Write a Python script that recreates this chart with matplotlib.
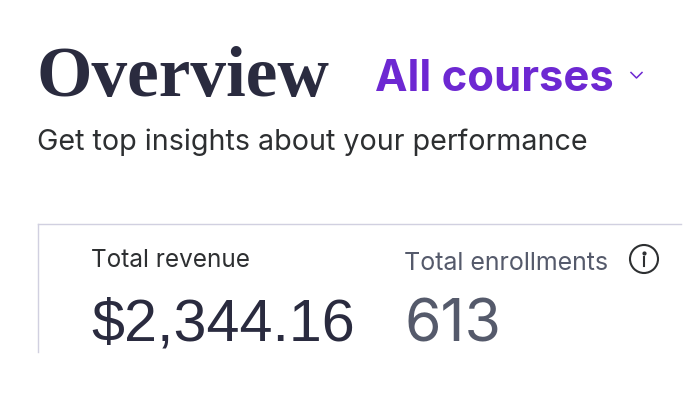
import matplotlib
matplotlib.use('Agg')
import matplotlib.pyplot as plt
from matplotlib.patches import Circle

# Texts
title = 'Overview'
course_filter = 'All courses'
subtitle = 'Get top insights about your performance'
metric_names = ['Total revenue', 'Total enrollments']
metric_values = ['$2,344.16', '613']

DARK = '#2d2f31'
NAVY = '#2a2b3f'
PURPLE = '#6d28d2'
GREY = '#555a6b'
BORDER = '#d1d0e0'

fig = plt.figure(figsize=(7, 4), dpi=100)
ax = fig.add_axes([0, 0, 1, 1])
ax.set_xlim(0, 700)
ax.set_ylim(400, 0)
ax.axis('off')

# Header
ax.text(37, 96, title, family='Liberation Serif', weight='bold', fontsize=51.3, color=NAVY, va='baseline')
ax.text(375, 91, course_filter, family='Inter', weight='bold', fontsize=31.4, color=PURPLE, va='baseline')
ax.plot([631, 636.5, 642], [72.5, 78, 72.5], color=PURPLE, lw=1.1)
ax.text(37, 150, subtitle, family='Inter', fontsize=20.6, color=DARK, va='baseline')

# Card border, cut off at the bottom
ax.plot([38, 38], [352, 224], color=BORDER, lw=1)
ax.plot([38, 681], [224, 224], color=BORDER, lw=1)

# Metrics
ax.text(91, 267, metric_names[0], family='Inter', fontsize=17.5, color=DARK, va='baseline')
ax.text(404, 270, metric_names[1], family='Inter', fontsize=18, color=GREY, va='baseline')
ax.text(91, 340, metric_values[0], family='Liberation Sans', fontsize=42.7, color=NAVY, va='baseline')
ax.text(404, 342, metric_values[1], family='Inter', fontsize=42.5, color=GREY, va='baseline')

# Info icon
ax.add_patch(Circle((644, 259), 14, fill=False, ec=DARK, lw=1.5))
ax.plot([644, 644], [257, 266], color=DARK, lw=1.5)
ax.plot([644], [252.5], marker='o', ms=2, color=DARK)

fig.savefig('out.png', dpi=100)
